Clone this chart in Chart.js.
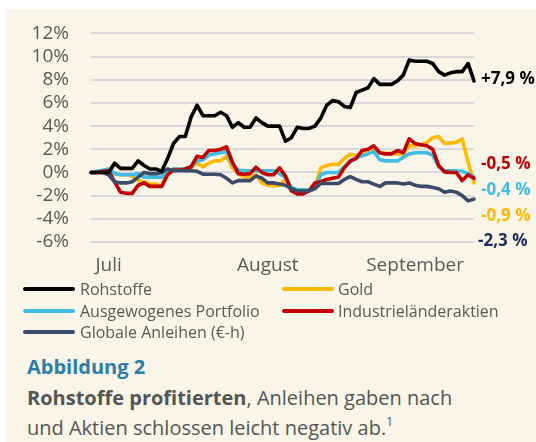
<!DOCTYPE html>
<html>
<head>
<meta charset="utf-8">
<script src="https://cdn.jsdelivr.net/npm/chart.js@4.4.1/dist/chart.umd.min.js"></script>
<style>
  body { margin: 0; background: #fff; font-family: "Open Sans", sans-serif; }
  #panel { position: absolute; left: 6px; top: 9px; width: 530px; height: 433px; background: #f9f5e8; }
  #chartBox { position: absolute; left: 0; top: 0; width: 536px; height: 290px; }
  .endLbl { position: absolute; font-weight: bold; font-size: 17px; line-height: 20px; white-space: nowrap; }
  .leg { position: absolute; font-size: 16px; line-height: 20px; color: #595959; white-space: nowrap; }
  .leg span { position: absolute; top: 8px; height: 4px; border-radius: 2px; }
  #title { position: absolute; left: 27px; top: 353px; font-size: 20px; font-weight: bold; color: #2b7ea8; }
  #caption { position: absolute; left: 27px; top: 383px; font-size: 20px; line-height: 30px; color: #555; }
  #caption sup { font-size: 12px; line-height: 0; vertical-align: baseline; position: relative; top: -9px; }
</style>
</head>
<body>
<div id="panel"></div>
<div id="chartBox"><canvas id="myChart"></canvas></div>
<div id="legend"></div>
<div id="ends"></div>
<div id="title">Abbildung 2</div>
<div id="caption"><b>Rohstoffe profitierten</b>, Anleihen gaben nach<br>und Aktien schlossen leicht negativ ab.<sup>1</sup></div>
<script>
// Wertentwicklung in %, Handelstage Juli bis September
let rohstoffe = [0, 0, 0, 0, 0.8, 0.35, 0.35, 0.35, 1.0, 0.6, 0.3, 0.3, 0.1, 1.2, 2.5, 3.1, 3.1, 4.8, 5.8, 4.9,
  4.9, 4.9, 5.2, 4.9, 3.9, 4.3, 3.9, 3.9, 4.7, 4.3, 4.0, 4.0, 4.0, 2.7, 3.0, 3.9, 3.8, 3.8, 4.0, 4.7,
  5.8, 6.2, 6.1, 5.7, 5.6, 6.9, 7.1, 7.3, 8.1, 7.6, 7.6, 7.6, 7.9, 8.4, 9.7, 9.6, 9.6, 9.6, 9.4, 8.7,
  8.4, 8.6, 8.7, 8.7, 9.4, 7.9];
let gold = [0, 0, 0, -0.1, -0.1, -0.2, -0.2, -0.3, -0.7, -0.8, -1.0, -1.0, -1.2, 0.1, 0.3, 0.3, 0.3, 0.4, 0.8, 0.5,
  0.8, 1.0, 1.0, 1.4, 0.4, -0.1, -0.4, -0.4, -0.2, -0.9, -1.1, -1.15, -1.1, -0.6, -1.3, -1.55, -1.55, -1.55, -1.3, 0.4,
  0.6, 0.7, 0.7, 1.2, 1.55, 1.45, 1.7, 1.9, 2.1, 1.7, 1.65, 1.65, 1.6, 1.6, 2.3, 2.3, 2.35, 2.6, 3.0, 3.1,
  2.5, 2.55, 2.6, 2.9, 0.9, -0.9];
let portfolio = [0, 0.1, 0.2, 0.3, -0.1, -0.2, -0.2, -0.2, -0.1, -0.4, -0.4, -0.4, -0.4, 0.1, 0.3, 0.3, 0.3, 0.5, 1.0, 1.1,
  1.5, 1.6, 1.7, 1.8, 0.7, 0.2, 0.15, 0.15, 0.15, 0.15, 0.15, 0.15, -0.1, -0.4, -1.3, -1.5, -1.5, -1.5, -1.3, -0.2,
  0.0, 0.0, 0.0, 0.5, 0.9, 1.3, 1.45, 1.6, 1.8, 1.1, 1.0, 1.0, 1.0, 1.3, 1.6, 1.7, 1.7, 1.7, 1.5, 0.5,
  0.15, 0.15, 0.15, 0.1, -0.1, -0.4];
let aktien = [0, 0, 0.1, 0.15, -0.8, -1.7, -1.8, -1.8, -1.1, -0.9, -1.2, -1.2, -1.2, -0.2, 0.2, 0.2, 0.3, 0.5, 1.4, 1.3,
  1.9, 1.9, 2.0, 2.2, 0.9, -0.1, -0.15, -0.1, 0.45, 0.0, -0.2, -0.2, 0.4, -0.3, -1.6, -1.85, -1.85, -1.6, -0.9, -0.8,
  -0.6, -0.5, -0.4, 0.4, 1.0, 1.2, 1.9, 2.0, 2.3, 1.7, 1.6, 1.6, 1.9, 1.7, 2.9, 2.5, 2.4, 2.3, 2.0, 0.6,
  0.05, 0.0, 0.0, -0.7, -0.2, -0.5];
let anleihen = [0, 0, 0, -0.2, -0.8, -0.9, -0.9, -0.8, -0.4, 0.0, -0.1, -0.1, 0.0, 0.3, 0.15, 0.15, 0.15, 0.15, 0.1, -0.15,
  -0.15, -0.15, -0.2, -0.5, -0.9, -0.7, -0.7, -0.7, -0.3, -0.5, -0.9, -0.9, -1.0, -1.1, -1.4, -1.6, -1.6, -1.6, -1.4, -0.95,
  -0.95, -0.95, -0.95, -0.6, -0.35, -0.6, -0.8, -0.8, -1.0, -1.2, -0.9, -0.9, -0.9, -1.0, -0.9, -1.1, -1.2, -1.2, -1.3, -1.4,
  -1.7, -1.6, -1.7, -2.0, -2.45, -2.3];

let monatsNamen = ['Juli', 'August', 'September'];
let monatsTag = [3, 30, 55];
let yTicks = [-6, -4, -2, 0, 2, 4, 6, 8, 10, 12];

let serienNamen = ['Rohstoffe', 'Gold', 'Ausgewogenes Portfolio', 'Industrieländeraktien', 'Globale Anleihen (€-h)'];
let serienDaten = [rohstoffe, gold, portfolio, aktien, anleihen];
let serienFarben = ['#000000', '#ffb900', '#41bde3', '#c00000', '#3b4b68'];
let zeichenReihenfolge = [0, 4, 3, 2, 1]; // kleiner = weiter oben
let endWerte = ['+7,9 %', '-0,5 %', '-0,4 %', '-0,9 %', '-2,3 %'];
let endFarben = ['#000000', '#c00000', '#41bde3', '#ffb900', '#1f2d5c'];

let labels = rohstoffe.map(() => '');
monatsTag.forEach((t, i) => labels[t] = monatsNamen[i]);

// Legende (zwei Spalten)
let legend = document.getElementById('legend');
serienNamen.forEach((name, i) => {
  let col = i % 2, row = Math.floor(i / 2);
  let d = document.createElement('div');
  d.className = 'leg';
  d.style.left = (col ? 282 : 23) + 'px';
  d.style.top = (279 + row * 21.5) + 'px';
  d.innerHTML = '<span style="left:0;width:52px;background:' + serienFarben[i] + '"></span>' +
    '<div style="margin-left:' + (col ? 56 : 57) + 'px">' + name + '</div>';
  legend.appendChild(d);
});

// Endwerte rechts
let ends = document.getElementById('ends');
let endTops = [68, 153, 179, 205, 230];
endWerte.forEach((w, i) => {
  let d = document.createElement('div');
  d.className = 'endLbl';
  d.style.left = (i == 4 ? 478 : 481) + 'px';
  d.style.top = endTops[i] + 'px';
  d.style.color = endFarben[i];
  d.textContent = w;
  ends.appendChild(d);
});

const ctx = document.getElementById('myChart').getContext('2d');
new Chart(ctx, {
  type: 'line',
  data: {
    labels: labels,
    datasets: serienNamen.map((name, i) => ({
      label: name,
      data: serienDaten[i],
      borderColor: serienFarben[i],
      borderWidth: 3.6,
      pointRadius: 0,
      tension: 0,
      borderJoinStyle: 'round',
      borderCapStyle: 'round',
      order: zeichenReihenfolge[i]
    }))
  },
  options: {
    responsive: true,
    maintainAspectRatio: false,
    animation: false,
    layout: { padding: { top: 31, right: 62, left: 0, bottom: 0 } },
    plugins: { legend: { display: false }, tooltip: { enabled: false } },
    scales: {
      x: {
        grid: { display: false },
        border: { display: false },
        afterFit: s => { s.height = 48; },
        ticks: {
          autoSkip: false, maxRotation: 0, padding: 4,
          color: '#595959', font: { family: 'Open Sans', size: 19 },
          callback: (v, i) => labels[i]
        }
      },
      y: {
        min: -6, max: 12,
        afterFit: s => { s.width = 91; },
        afterBuildTicks: s => { s.ticks = yTicks.map(v => ({ value: v })); },
        grid: { color: '#d8d8dc', lineWidth: 2, drawTicks: false },
        border: { display: false },
        ticks: {
          autoSkip: false,
          padding: 22, color: '#595959', font: { family: 'Open Sans', size: 19 },
          callback: v => v + '%'
        }
      }
    }
  }
});
</script>
</body>
</html>
